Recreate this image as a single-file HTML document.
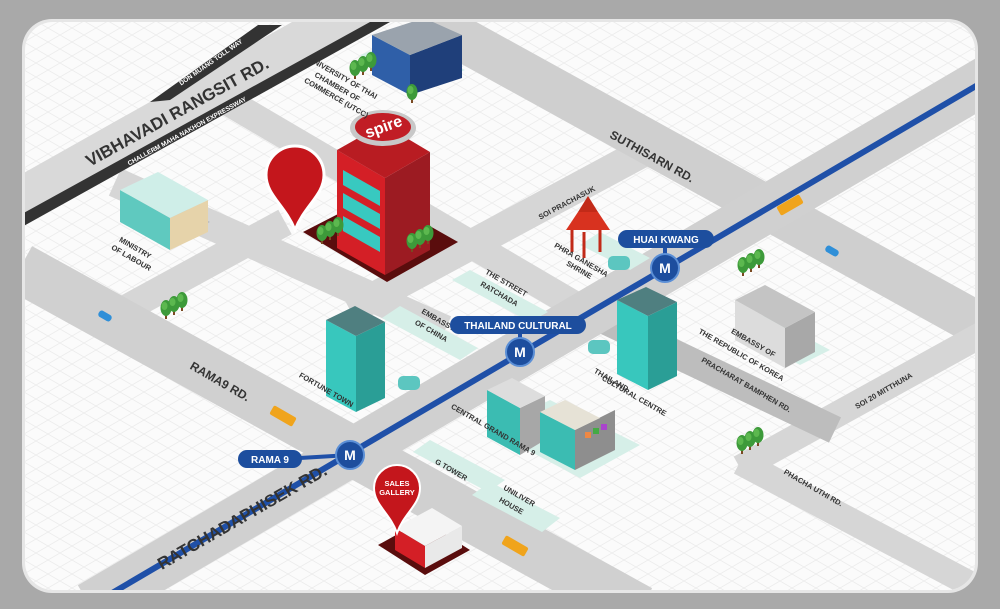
<!DOCTYPE html>
<html><head><meta charset="utf-8"><style>
html,body{margin:0;padding:0;background:#a9a9a9;}
svg{display:block;}
text{font-family:"Liberation Sans",sans-serif;font-weight:bold;}
</style></head><body>
<svg width="1000" height="609" viewBox="0 0 1000 609" xmlns="http://www.w3.org/2000/svg">
<defs>
<clipPath id="card"><rect x="25" y="22" width="950" height="568" rx="28"/></clipPath>
<pattern id="grid" width="24" height="14" patternUnits="userSpaceOnUse">
<path d="M0 14 L24 0 M0 0 L24 14" stroke="#ececec" stroke-width="0.8" fill="none"/>
</pattern>
<g id="tree"><rect x="-1" y="0" width="2" height="8" fill="#7a4a22"/><ellipse cx="0" cy="-3" rx="5.5" ry="8" fill="#3d9a3a"/><ellipse cx="-1.5" cy="-5" rx="3" ry="4" fill="#5cb84f"/></g>
<g id="trees"><use href="#tree" x="0" y="6"/><use href="#tree" x="8" y="2"/><use href="#tree" x="16" y="-2"/></g>
</defs>
<rect x="0" y="0" width="1000" height="609" fill="#a9a9a9"/>
<rect x="22" y="19" width="956" height="574" rx="30" fill="#e6e6e6"/>
<rect x="25" y="22" width="950" height="568" rx="28" fill="#fbfbfb"/>
<g clip-path="url(#card)">
<rect x="25" y="22" width="950" height="568" fill="url(#grid)"/>
<g stroke="#d6d6d6" fill="none" stroke-linecap="butt">
<line x1="225" y1="100" x2="600" y2="320" stroke-width="28"/>
<line x1="115" y1="182" x2="445" y2="330" stroke-width="30"/>
<line x1="120" y1="312" x2="285" y2="222" stroke-width="28"/>
<line x1="350" y1="310" x2="660" y2="143" stroke-width="30"/>
<line x1="20" y1="268" x2="640" y2="610" stroke-width="50" stroke="#d0d0d0"/>
<line x1="420" y1="16" x2="1000" y2="336" stroke-width="44" stroke="#cfcfcf"/>
<line x1="740" y1="468" x2="990" y2="330" stroke-width="26"/>
<line x1="740" y1="462" x2="1000" y2="600" stroke-width="26"/>
<line x1="600" y1="318" x2="835" y2="430" stroke-width="28" stroke="#bdbdbd"/>
<line x1="90" y1="606" x2="1010" y2="66" stroke-width="48" stroke="#d0d0d0"/>
</g>
<polygon points="20,175 292,22 380,22 20,222" fill="#d9d9d9"/>
<polygon points="20,215 370,22 390,22 20,228" fill="#333"/>
<polygon points="150,102 258,25 282,25 170,100" fill="#333"/>
<line x1="20" y1="90" x2="0" y2="90" stroke="#333"/>
<line x1="90" y1="606" x2="1010" y2="66" stroke="#1f50a8" stroke-width="6"/>
<line x1="300" y1="458" x2="350" y2="455" stroke="#1f50a8" stroke-width="4"/>
<line x1="520" y1="333" x2="520" y2="352" stroke="#1f50a8" stroke-width="4"/>
<line x1="665" y1="247" x2="665" y2="268" stroke="#1f50a8" stroke-width="4"/>
<g fill="#d6efe8">
<polygon points="470,270 548,312 530,322 452,280"/>
<polygon points="400,306 478,348 460,360 382,318"/>
<polygon points="430,440 505,480 488,492 413,452"/>
<polygon points="490,482 560,518 542,532 472,495"/>
<polygon points="735,330 800,365 830,350 765,315"/>
<polygon points="360,55 420,90 465,70 405,38"/>
<polygon points="580,245 630,270 650,258 600,232"/>
<polygon points="490,430 580,478 640,445 550,400"/>
</g>
<polygon points="372,35 410,55 410,95 372,75" fill="#2f5fa8"/>
<polygon points="410,55 462,35 462,78 410,95" fill="#1f3f7a"/>
<polygon points="372,35 410,55 462,35 424,18" fill="#9aa3ad"/>
<use href="#trees" x="355" y="65"/><use href="#tree" x="412" y="95"/>
<polygon points="120,210 175,240 210,222 155,192" fill="#bbb"/>
<polygon points="120,190 170,218 170,250 120,222" fill="#5fc9bf"/>
<polygon points="170,218 208,200 208,232 170,250" fill="#e6d3aa"/>
<polygon points="120,190 170,218 208,200 158,172" fill="#cfeee8"/>
<polygon points="303,232 387,282 458,242 375,195" fill="#5a0d0d"/>
<polygon points="337,150 385,178 385,275 337,248" fill="#d41f26"/>
<polygon points="385,178 430,152 430,250 385,275" fill="#9c1b22"/>
<polygon points="337,150 383,124 430,152 385,178" fill="#b81c22"/>
<g fill="#38c9c0"><polygon points="343,170 380,191 380,206 343,185"/><polygon points="343,193 380,214 380,229 343,208"/><polygon points="343,216 380,237 380,252 343,231"/></g>
<ellipse cx="383" cy="128" rx="33" ry="18" fill="#c8c8c8"/><ellipse cx="383" cy="127" rx="28" ry="14" fill="#c11d25"/>
<text x="384" y="132" font-size="16" fill="#fff" text-anchor="middle" transform="rotate(-20 384 128)">spire</text>
<use href="#trees" x="322" y="230"/><use href="#trees" x="412" y="238"/>
<path d="M295 230 C285 205 266 195 266 175 A29 29 0 0 1 324 175 C324 195 305 205 295 230Z" fill="#c4161c" stroke="#fff" stroke-width="3"/>
<polygon points="566,230 578,212 598,212 610,230" fill="#d8321f"/>
<polygon points="578,212 588,196 598,212" fill="#c22a18"/>
<g stroke="#c22a18" stroke-width="3"><line x1="572" y1="230" x2="572" y2="252"/><line x1="584" y1="232" x2="584" y2="258"/><line x1="600" y1="230" x2="600" y2="252"/></g>
<rect x="608" y="256" width="22" height="14" rx="5" fill="#5cc6c0"/>
<polygon points="326,320 356,336 356,412 326,396" fill="#38c7bd"/>
<polygon points="356,336 385,322 385,398 356,412" fill="#2a9e96"/>
<polygon points="326,320 356,336 385,322 355,306" fill="#4f7f80"/>
<rect x="398" y="376" width="22" height="14" rx="5" fill="#5cc6c0"/>
<polygon points="617,300 648,316 648,390 617,374" fill="#38c7bd"/>
<polygon points="648,316 677,302 677,376 648,390" fill="#2a9e96"/>
<polygon points="617,300 648,316 677,302 646,287" fill="#4f7f80"/>
<rect x="588" y="340" width="22" height="14" rx="5" fill="#5cc6c0"/>
<polygon points="735,300 785,328 785,368 735,340" fill="#dcdcdc"/>
<polygon points="785,328 815,312 815,352 785,368" fill="#a8a8a8"/>
<polygon points="735,300 785,328 815,312 765,285" fill="#c4c4c4"/>
<polygon points="487,390 520,408 520,455 487,437" fill="#3bbcb2"/>
<polygon points="520,408 545,396 545,440 520,455" fill="#a7a7a7"/>
<polygon points="487,390 520,408 545,396 512,378" fill="#ddd"/>
<polygon points="540,412 575,430 575,470 540,452" fill="#3bbcb2"/>
<polygon points="575,430 615,410 615,450 575,470" fill="#8e8e8e"/>
<polygon points="540,412 575,430 600,418 565,400" fill="#e6e2d6"/>
<g><rect x="585" y="432" width="6" height="6" fill="#e84"/><rect x="593" y="428" width="6" height="6" fill="#4a4"/><rect x="601" y="424" width="6" height="6" fill="#a4c"/></g>
<polygon points="378,545 425,575 470,550 423,520" fill="#5a0d0d"/>
<polygon points="395,528 425,546 425,568 395,550" fill="#d41f26"/>
<polygon points="425,546 462,526 462,548 425,568" fill="#e9e9e9"/>
<polygon points="395,528 425,546 462,526 432,508" fill="#f4f4f4"/>
<path d="M397 533 C390 513 374 505 374 488 A23 23 0 0 1 420 488 C420 505 404 513 397 533Z" fill="#c4161c" stroke="#fff" stroke-width="2"/>
<text x="397" y="486" font-size="7.5" fill="#fff" text-anchor="middle">SALES</text>
<text x="397" y="495" font-size="7.5" fill="#fff" text-anchor="middle">GALLERY</text>
<use href="#trees" x="166" y="305"/><use href="#trees" x="743" y="262"/><use href="#trees" x="742" y="440"/>
<g transform="translate(283,416) rotate(30)"><rect x="-13" y="-5" width="26" height="10" rx="2" fill="#f0a41c"/></g>
<g transform="translate(790,205) rotate(-30)"><rect x="-13" y="-5" width="26" height="10" rx="2" fill="#f0a41c"/></g>
<g transform="translate(515,546) rotate(30)"><rect x="-13" y="-5" width="26" height="10" rx="2" fill="#f0a41c"/></g>
<g transform="translate(105,316) rotate(30)"><rect x="-7" y="-3.5" width="14" height="7" rx="3" fill="#2f8fd8"/></g>
<g transform="translate(832,251) rotate(30)"><rect x="-7" y="-3.5" width="14" height="7" rx="3" fill="#2f8fd8"/></g>
<g fill="#333" text-anchor="middle">
<text transform="translate(180,117) rotate(-29)" font-size="17">VIBHAVADI RANGSIT RD.</text>
<text transform="translate(188,133) rotate(-29)" font-size="6.5" fill="#fff">CHALLERM MAHA NAKHON EXPRESSWAY</text>
<text transform="translate(212,64) rotate(-35)" font-size="6.5" fill="#fff">DON MUANG TOLL WAY</text>
<g font-size="7.5" font-weight="normal">
<text transform="translate(342,80) rotate(30)">UNIVERSITY OF THAI</text>
<text transform="translate(336,89) rotate(30)">CHAMBER OF</text>
<text transform="translate(335,100) rotate(30)">COMMERCE (UTCC)</text>
<text transform="translate(134,250) rotate(30)">MINISTRY</text>
<text transform="translate(130,260) rotate(30)">OF LABOUR</text>
<text transform="translate(568,205) rotate(-28)">SOI PRACHASUK</text>
<text transform="translate(580,262) rotate(30)">PHRA GANESHA</text>
<text transform="translate(578,272) rotate(30)">SHRINE</text>
<text transform="translate(505,285) rotate(30)">THE STREET</text>
<text transform="translate(498,296) rotate(30)">RATCHADA</text>
<text transform="translate(437,322) rotate(30)">EMBASSY</text>
<text transform="translate(430,333) rotate(30)">OF CHINA</text>
<text transform="translate(325,392) rotate(30)">FORTUNE TOWN</text>
<text transform="translate(492,432) rotate(30)">CENTRAL GRAND RAMA 9</text>
<text transform="translate(450,472) rotate(30)">G TOWER</text>
<text transform="translate(518,498) rotate(30)">UNILIVER</text>
<text transform="translate(510,508) rotate(30)">HOUSE</text>
<text transform="translate(610,382) rotate(30)">THAILAND</text>
<text transform="translate(633,398) rotate(30)">CULTURAL CENTRE</text>
<text transform="translate(752,345) rotate(30)">EMBASSY OF</text>
<text transform="translate(740,357) rotate(30)">THE REPUBLIC OF KOREA</text>
<text transform="translate(745,387) rotate(30)">PRACHARAT BAMPHEN RD.</text>
<text transform="translate(885,393) rotate(-30)">SOI 20 MITTHUNA</text>
<text transform="translate(812,490) rotate(30)">PHACHA UTHI RD.</text>
</g>
<text transform="translate(650,160) rotate(29)" font-size="12">SUTHISARN RD.</text>
<text transform="translate(218,385) rotate(30)" font-size="12">RAMA9 RD.</text>
<text transform="translate(245,522) rotate(-30)" font-size="17">RATCHADAPHISEK RD.</text>
</g>
<g font-size="10" fill="#fff" text-anchor="middle">
<rect x="618" y="230" width="96" height="18" rx="9" fill="#1d4e9e"/><text x="666" y="243">HUAI KWANG</text>
<rect x="450" y="316" width="136" height="18" rx="9" fill="#1d4e9e"/><text x="518" y="329">THAILAND CULTURAL</text>
<rect x="238" y="450" width="64" height="18" rx="9" fill="#1d4e9e"/><text x="270" y="463">RAMA 9</text>
</g>
<g font-size="14" fill="#fff" text-anchor="middle">
<circle cx="665" cy="268" r="14" fill="#1d4e9e" stroke="#5b8fd6" stroke-width="2"/><text x="665" y="273">M</text>
<circle cx="520" cy="352" r="14" fill="#1d4e9e" stroke="#5b8fd6" stroke-width="2"/><text x="520" y="357">M</text>
<circle cx="350" cy="455" r="14" fill="#1d4e9e" stroke="#5b8fd6" stroke-width="2"/><text x="350" y="460">M</text>
</g>
</g>
</svg>
</body></html>
